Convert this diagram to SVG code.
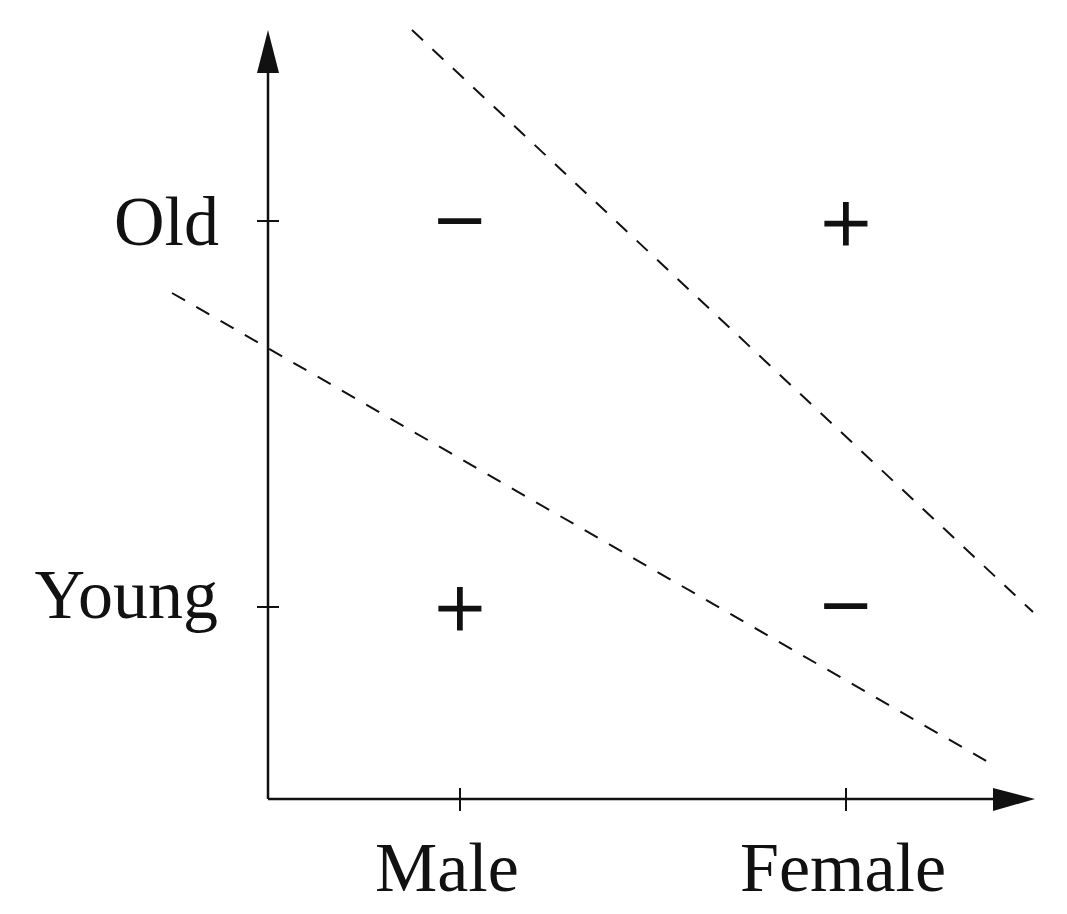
<svg xmlns="http://www.w3.org/2000/svg" width="1067" height="914" viewBox="0 0 1067 914">
<style>
.ax{stroke:#111;stroke-width:2.5;fill:none}
.tk{stroke:#111;stroke-width:2}
.ds{stroke:#111;stroke-width:2;stroke-dasharray:15 13;fill:none}
.lb{font-family:"Liberation Serif","Times New Roman",serif;font-size:70px;fill:#111}
.sg{font-family:"Liberation Serif","Times New Roman",serif;font-size:90px;fill:#111;stroke:#111;stroke-width:1.2;text-anchor:middle}
.ah{fill:#111}
</style>
<rect width="1067" height="914" fill="#fff"/>
<g id="axes">
<line class="ax" x1="268" y1="799" x2="268" y2="70"/>
<line class="ax" x1="268" y1="799" x2="997" y2="799"/>
<polygon class="ah" points="268,30 257,73 279,73"/>
<polygon class="ah" points="1035,799 993,788 993,811"/>
</g>
<g id="ticks">
<line class="tk" x1="257" y1="221" x2="279" y2="221"/>
<line class="tk" x1="257" y1="607" x2="279" y2="607"/>
<line class="tk" x1="460" y1="788" x2="460" y2="811"/>
<line class="tk" x1="846" y1="788" x2="846" y2="811"/>
</g>
<g id="connectors">
<line class="ds" x1="412" y1="30" x2="1033" y2="612"/>
<line class="ds" x1="172" y1="293" x2="988" y2="762"/>
</g>
<g id="label-old"><text class="lb" x="219" y="245" text-anchor="end">Old</text></g>
<g id="label-young"><text class="lb" x="218" y="618" text-anchor="end">Young</text></g>
<g id="label-male"><text class="lb" x="375" y="891">Male</text></g>
<g id="label-female"><text class="lb" x="740" y="891">Female</text></g>
<g id="sign-old-male"><text class="sg" x="460" y="251">−</text></g>
<g id="sign-old-female"><text class="sg" x="846" y="254">+</text></g>
<g id="sign-young-male"><text class="sg" x="460" y="639">+</text></g>
<g id="sign-young-female"><text class="sg" x="846" y="636">−</text></g>
</svg>
